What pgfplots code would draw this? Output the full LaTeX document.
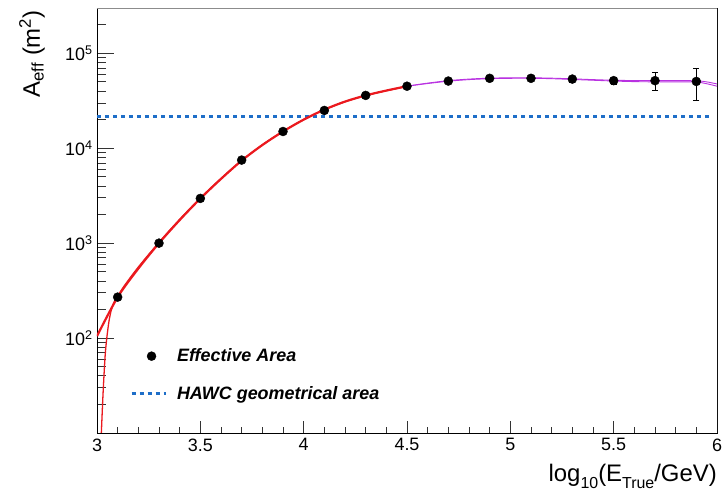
\documentclass[border=0pt]{standalone}
\usepackage{fontspec}
\setmainfont{Liberation Sans}
\usepackage{pgfplots}
\pgfplotsset{compat=1.18}
\definecolor{fitred}{RGB}{235,25,30}
\definecolor{fitpurple}{RGB}{185,50,225}
\definecolor{hawcblue}{RGB}{30,110,200}
\pgfplotsset{
  dotlegend/.style={legend image code/.code={\draw[##1] plot coordinates {(20bp,0bp)};}},
  linelegend/.style={legend image code/.code={\draw[##1] (0bp,0bp) -- (34bp,0bp);}},
}
\newcommand{\sub}[1]{\raisebox{-0.55ex}{\fontsize{16}{16}\selectfont #1}}
\begin{document}
\begin{tikzpicture}
\begin{axis}[
  scale only axis, width=620bp, height=425bp,
  xmin=3, xmax=6, ymode=log, ymin=10, ymax=3e5,
  tick pos=left, tick align=inside,
  xtick={3,3.5,4,4.5,5,5.5,6},
  xticklabels={3,3.5,4,4.5,5,5.5,6},
  minor xtick={3.1,3.2,3.3,3.4,3.6,3.7,3.8,3.9,4.1,4.2,4.3,4.4,4.6,4.7,4.8,4.9,5.1,5.2,5.3,5.4,5.6,5.7,5.8,5.9},
  ytick={100,1000,10000,100000},
  yticklabels={10\textsuperscript{2},10\textsuperscript{3},10\textsuperscript{4},10\textsuperscript{5}},
  minor ytick={20,30,40,50,60,70,80,90,200,300,400,500,600,700,800,900,2000,3000,4000,5000,6000,7000,8000,9000,20000,30000,40000,50000,60000,70000,80000,90000,200000,300000},
  x tick style={/pgfplots/major tick length=12bp,/pgfplots/minor tick length=6bp, line width=0.8pt, black!80},
  y tick style={/pgfplots/major tick length=17bp,/pgfplots/minor tick length=9bp, line width=0.8pt, black!80},
  axis line style={line width=0.9pt, black},
  ticklabel style={font=\fontsize{18}{20}\selectfont},
  xticklabel style={yshift=-2bp},
  yticklabel style={xshift=-1bp},
  xlabel={log\sub{10}(E\sub{True}/GeV)},
  xlabel style={font=\fontsize{24}{26}\selectfont, at={(axis description cs:1,0)}, anchor=north east, yshift=-31bp, inner sep=0pt},
  ylabel={A\textsubscript{eff} (m\textsuperscript{2})},
  ylabel style={font=\fontsize{24}{26}\selectfont, at={(axis description cs:-0.092,0.995)}, anchor=base east, inner sep=0pt},
  legend style={draw=none, fill=none, at={(axis description cs:0.053,0.203)}, anchor=north west,
    font=\fontsize{18}{20}\selectfont\bfseries\itshape, row sep=19bp, column sep=8bp, inner sep=0pt},
  legend cell align=left,
]
\addlegendimage{only marks, mark=*, mark size=4.5bp, black, dotlegend}
\addlegendentry{Effective Area}
\addlegendimage{hawcblue, line width=3bp, dash pattern=on 4bp off 4bp, linelegend}
\addlegendentry{HAWC geometrical area}

% HAWC geometrical area
\addplot[forget plot, hawcblue, line width=3bp, dash pattern=on 4bp off 4bp] coordinates {(3,21500) (5.98,21500)};

% purple fits (full range)
\addplot[forget plot, fitpurple, line width=0.9pt, smooth] coordinates {
(3.0,105) (3.1,270) (3.2,540) (3.3,1000) (3.4,1750) (3.5,2950) (3.6,4750) (3.7,7400) (3.8,10800) (3.9,15000) (4.0,20000) (4.1,25500) (4.2,31000) (4.3,36000) (4.4,40500) (4.5,45000)
(4.6,48500) (4.7,51500) (4.8,53500) (4.9,54700) (5.0,55200) (5.1,55200) (5.2,54700) (5.3,53800) (5.4,52800) (5.5,52000) (5.6,51600) (5.7,51500) (5.8,51500) (5.9,51300) (5.95,50000) (6.0,47500)};
\addplot[forget plot, fitpurple, line width=0.9pt, smooth] coordinates {
(4.5,45000) (4.6,48000) (4.7,50800) (4.8,52800) (4.9,54000) (5.0,54500) (5.1,54500) (5.2,54000) (5.3,53000) (5.4,52000) (5.5,51000) (5.6,50300) (5.7,50000) (5.8,50000) (5.9,49800) (5.95,47800) (6.0,45000)};

% red fits
\addplot[forget plot, fitred, line width=1.3pt, smooth] coordinates {
(3.021,10) (3.03,28) (3.04,68) (3.05,112) (3.06,160) (3.07,200) (3.08,232) (3.09,256) (3.1,276) (3.13,350) (3.2,560) (3.3,1020) (3.4,1780) (3.5,2980) (3.6,4800) (3.7,7450) (3.8,10850) (3.9,15050) (4.0,20000) (4.1,25400) (4.2,30800) (4.3,35800) (4.4,40300) (4.5,44800)};
\addplot[forget plot, fitred, line width=2.2pt, smooth] coordinates {
(3.0,105) (3.1,270) (3.2,540) (3.3,1000) (3.4,1750) (3.5,2950) (3.6,4750) (3.7,7400) (3.8,10800) (3.9,15000) (4.0,20000) (4.1,25500) (4.2,31000) (4.3,36000) (4.4,40500) (4.5,45000)};

% effective area points
\addplot[forget plot, only marks, mark=*, mark size=4.5bp, black,
  error bars/.cd, y dir=both, y explicit, error bar style={black, line width=0.6pt}, error mark options={rotate=90, mark size=3bp, black}]
  coordinates {
(3.1,270) +- (0,15)
(3.3,1000) +- (0,40)
(3.5,2960) +- (0,80)
(3.7,7500) +- (0,200)
(3.9,15000) +- (0,400)
(4.1,25000) +- (0,700)
(4.3,36000) +- (0,1000)
(4.5,45000) +- (0,1500)
(4.7,51000) +- (0,2000)
(4.9,54500) +- (0,2500)
(5.1,54500) +- (0,3000)
(5.3,53500) +- (0,3500)
(5.5,51500) +- (0,4500)
(5.7,51500) +- (0,11000)
(5.9,50500) +- (0,18500)
};

\draw[black!45, line width=0.9pt] (rel axis cs:0,1) -- (rel axis cs:1,1) -- (rel axis cs:1,0);
\end{axis}
\pgfresetboundingbox
\path[use as bounding box] ([shift={(-97bp,-63bp)}]current axis.south west) rectangle ([shift={(7bp,8bp)}]current axis.north east);
\end{tikzpicture}
\end{document}
